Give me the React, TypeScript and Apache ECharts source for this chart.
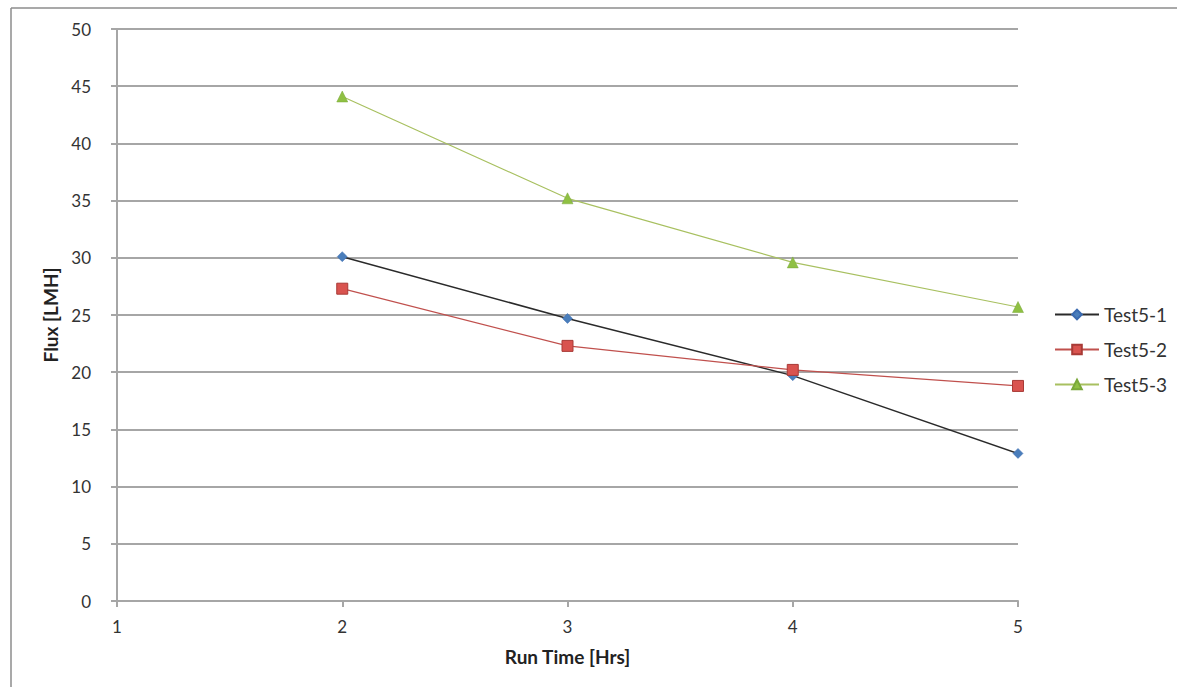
import React, { useEffect, useRef } from "react";
import * as echarts from "echarts";

const runTime = [2, 3, 4, 5];
const test51 = [30.1, 24.7, 19.7, 12.9];
const test52 = [27.3, 22.3, 20.2, 18.8];
const test53 = [44.1, 35.2, 29.6, 25.7];
const seriesNames = ["Test5-1", "Test5-2", "Test5-3"];

const FONT = "Lato, 'Open Sans', sans-serif";

export default function App() {
  const ref = useRef<HTMLDivElement>(null);
  useEffect(() => {
    if (!ref.current) return;
    const chart = echarts.init(ref.current, undefined, { renderer: "svg" });
    const pts = (ys: number[]) => runTime.map((x, i) => [x, ys[i]]);
    chart.setOption({
      animation: false,
      backgroundColor: "#ffffff",
      textStyle: { fontFamily: FONT },
      graphic: [
        {
          type: "line",
          shape: { x1: 11, y1: 8, x2: 1177, y2: 8 },
          style: { stroke: "#8c8c8c", lineWidth: 1.5 },
          silent: true,
        },
        {
          type: "line",
          shape: { x1: 11, y1: 8, x2: 11, y2: 687 },
          style: { stroke: "#8c8c8c", lineWidth: 1.5 },
          silent: true,
        },
      ],
      grid: { left: 117, right: 159, top: 29, bottom: 86 },
      legend: {
        orient: "vertical",
        left: 1049,
        top: 300,
        itemWidth: 44,
        itemHeight: 12,
        itemGap: 16,
        data: seriesNames,
        textStyle: { fontFamily: FONT, fontSize: 19, color: "#333" },
      },
      xAxis: {
        type: "value",
        min: 1,
        max: 5,
        interval: 1,
        name: "Run Time [Hrs]",
        nameLocation: "middle",
        nameGap: 46,
        nameTextStyle: { fontFamily: FONT, fontSize: 19, fontWeight: "bold", color: "#222" },
        axisLine: { show: true, lineStyle: { color: "#a6a6a6", width: 2 } },
        axisTick: { show: true, length: 6, lineStyle: { color: "#a6a6a6", width: 2 } },
        axisLabel: { margin: 17, fontFamily: FONT, fontSize: 17, color: "#333" },
        splitLine: { show: false },
      },
      yAxis: {
        type: "value",
        min: 0,
        max: 50,
        interval: 5,
        name: "Flux [LMH]",
        nameLocation: "middle",
        nameGap: 57,
        nameTextStyle: { fontFamily: FONT, fontSize: 19, fontWeight: "bold", color: "#222" },
        axisLine: { show: true, lineStyle: { color: "#a6a6a6", width: 2 } },
        axisTick: { show: true, length: 6, lineStyle: { color: "#a6a6a6", width: 2 } },
        axisLabel: { margin: 26, fontFamily: FONT, fontSize: 17, color: "#333" },
        splitLine: { show: true, lineStyle: { color: "#a6a6a6", width: 2 } },
      },
      series: [
        {
          name: seriesNames[0],
          type: "line",
          data: pts(test51),
          symbol: "diamond",
          symbolSize: 10,
          itemStyle: { color: "#4a7ebb", borderColor: "#3a6ab0", borderWidth: 0.5 },
          lineStyle: { color: "#2a2a2a", width: 1.5 },
          z: 3,
        },
        {
          name: seriesNames[1],
          type: "line",
          data: pts(test52),
          symbol: "rect",
          symbolSize: 11,
          itemStyle: { color: "#d9534f", borderColor: "#a83a36", borderWidth: 1 },
          lineStyle: { color: "#c0504d", width: 1.2 },
          z: 4,
        },
        {
          name: seriesNames[2],
          type: "line",
          data: pts(test53),
          symbol: "triangle",
          symbolSize: 11,
          itemStyle: { color: "#8fc043", borderColor: "#7aa83a", borderWidth: 0.5 },
          lineStyle: { color: "#a8c060", width: 1.2 },
          z: 2,
        },
      ],
    });
    return () => chart.dispose();
  }, []);
  return (
    <div
      ref={ref}
      style={{ position: "fixed", left: 0, top: 0, width: 1177, height: 687, background: "#fff" }}
    />
  );
}
